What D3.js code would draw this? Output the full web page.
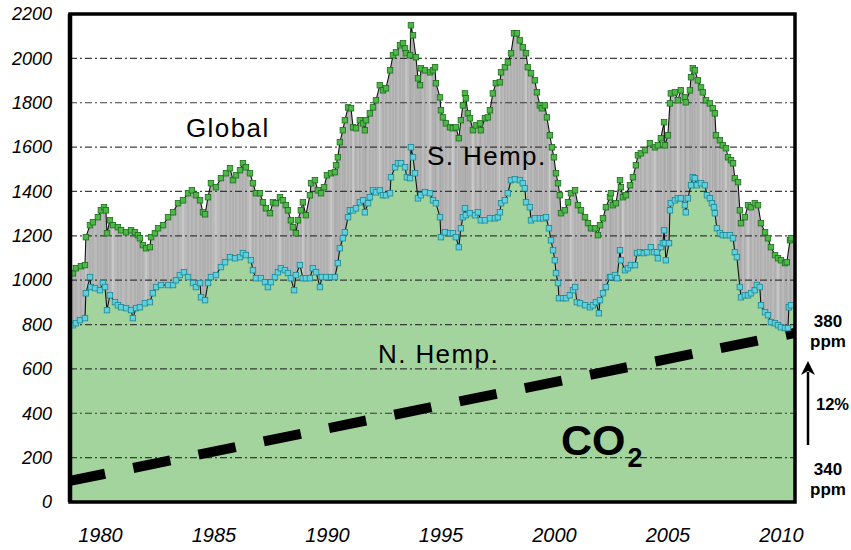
<!DOCTYPE html>
<html>
<head>
<meta charset="utf-8">
<script src="https://cdn.jsdelivr.net/npm/d3@7"></script>
<style>
body { margin: 0; background: #fff; }
svg text { font-family: "Liberation Sans", Arial, sans-serif; fill: #000; }
</style>
</head>
<body>
<svg id="vis" width="851" height="550"></svg>
<script>
// values: [year, value]
var globalSeries = [
  [1978.81,1031],[1978.94,1054],[1979.16,1063],[1979.34,1068],[1979.38,1194],[1979.56,1248],[1979.69,1261],[1979.91,1284],
  [1980.04,1315],[1980.18,1329],[1980.26,1315],[1980.31,1212],[1980.44,1270],[1980.57,1248],[1980.79,1239],[1980.93,1225],
  [1981.15,1216],[1981.37,1225],[1981.54,1216],[1981.67,1203],[1981.76,1189],[1981.89,1158],[1982.03,1144],[1982.20,1149],
  [1982.25,1194],[1982.42,1212],[1982.56,1234],[1982.78,1248],[1983.00,1284],[1983.22,1306],[1983.44,1347],[1983.66,1360],
  [1983.88,1392],[1984.05,1405],[1984.23,1383],[1984.41,1360],[1984.54,1306],[1984.63,1297],[1984.76,1374],[1984.89,1437],
  [1985.11,1419],[1985.33,1460],[1985.55,1482],[1985.73,1505],[1985.86,1451],[1985.99,1473],[1986.17,1496],[1986.30,1527],
  [1986.43,1509],[1986.61,1482],[1986.74,1437],[1986.87,1392],[1987.05,1392],[1987.18,1351],[1987.31,1324],[1987.49,1302],
  [1987.62,1351],[1987.75,1347],[1987.93,1374],[1988.06,1360],[1988.19,1338],[1988.28,1315],[1988.41,1270],[1988.50,1239],
  [1988.63,1212],[1988.72,1270],[1988.85,1315],[1988.94,1351],[1989.07,1293],[1989.25,1383],[1989.30,1437],[1989.47,1451],
  [1989.60,1405],[1989.74,1392],[1989.87,1419],[1990.00,1473],[1990.18,1482],[1990.35,1487],[1990.40,1518],[1990.48,1554],
  [1990.57,1622],[1990.70,1676],[1990.79,1721],[1990.93,1779],[1991.06,1775],[1991.15,1689],[1991.28,1685],[1991.45,1721],
  [1991.59,1707],[1991.67,1676],[1991.72,1721],[1991.89,1752],[1992.03,1779],[1992.16,1811],[1992.33,1879],[1992.47,1856],
  [1992.60,1865],[1992.78,1946],[1992.91,2014],[1993.04,2027],[1993.22,2059],[1993.35,2068],[1993.44,2045],[1993.48,2023],
  [1993.66,2014],[1993.70,2149],[1993.79,2104],[1993.92,2005],[1994.01,1910],[1994.10,1879],[1994.14,1955],[1994.32,1946],
  [1994.54,1937],[1994.67,1946],[1994.76,1960],[1994.80,1888],[1994.98,1824],[1995.02,1766],[1995.11,1734],[1995.24,1707],
  [1995.42,1689],[1995.55,1685],[1995.68,1689],[1995.81,1640],[1995.90,1721],[1995.99,1788],[1996.08,1842],[1996.12,1820],
  [1996.21,1752],[1996.30,1730],[1996.43,1676],[1996.56,1698],[1996.74,1707],[1996.78,1676],[1996.96,1730],[1997.09,1734],
  [1997.18,1766],[1997.31,1842],[1997.44,1888],[1997.62,1892],[1997.67,1937],[1997.84,1960],[1997.97,1982],[1998.11,2023],
  [1998.24,2113],[1998.37,2113],[1998.50,2081],[1998.63,2050],[1998.77,2023],[1998.85,1960],[1998.99,1933],[1999.16,1901],
  [1999.25,1847],[1999.38,1788],[1999.47,1775],[1999.60,1788],[1999.69,1734],[1999.82,1653],[1999.91,1599],[2000.00,1554],
  [2000.09,1482],[2000.18,1437],[2000.26,1383],[2000.31,1302],[2000.48,1315],[2000.62,1351],[2000.75,1392],[2000.93,1405],
  [2001.06,1338],[2001.19,1315],[2001.37,1284],[2001.50,1257],[2001.63,1234],[2001.81,1234],[2001.94,1203],[2002.03,1248],
  [2002.16,1279],[2002.29,1329],[2002.47,1374],[2002.51,1392],[2002.60,1338],[2002.73,1347],[2002.91,1451],[2002.95,1419],
  [2003.04,1374],[2003.17,1383],[2003.35,1428],[2003.48,1464],[2003.61,1518],[2003.70,1563],[2003.83,1572],[2004.01,1586],
  [2004.23,1617],[2004.45,1599],[2004.58,1608],[2004.71,1640],[2004.85,1712],[2004.89,1608],[2005.02,1653],[2005.11,1797],
  [2005.15,1842],[2005.33,1847],[2005.46,1811],[2005.59,1856],[2005.77,1824],[2005.81,1802],[2005.99,1856],[2006.04,1915],
  [2006.12,1955],[2006.21,1946],[2006.34,1901],[2006.48,1869],[2006.56,1847],[2006.70,1811],[2006.87,1797],[2007.00,1775],
  [2007.09,1752],[2007.14,1653],[2007.31,1631],[2007.44,1608],[2007.58,1595],[2007.67,1554],[2007.80,1541],[2007.89,1527],
  [2007.97,1460],[2008.11,1442],[2008.19,1315],[2008.24,1257],[2008.41,1284],[2008.55,1338],[2008.68,1329],[2008.85,1347],
  [2008.99,1338],[2009.12,1257],[2009.30,1216],[2009.43,1189],[2009.56,1149],[2009.74,1113],[2009.87,1099],[2010.00,1090],
  [2010.18,1077],[2010.26,1081],[2010.40,1180],[2010.44,1189]
];

var nhSeries = [
  [1978.81,797],[1978.94,806],[1979.12,820],[1979.34,829],[1979.38,941],[1979.56,1014],[1979.60,969],[1979.78,964],
  [1980.00,955],[1980.13,987],[1980.22,969],[1980.31,865],[1980.44,932],[1980.66,901],[1980.79,887],[1980.93,878],
  [1981.15,874],[1981.37,865],[1981.45,829],[1981.59,874],[1981.76,878],[1981.98,896],[1982.20,901],[1982.33,941],
  [1982.47,969],[1982.69,978],[1983.00,978],[1983.22,978],[1983.35,1000],[1983.52,1023],[1983.70,1036],[1983.88,1014],
  [1984.10,987],[1984.23,969],[1984.41,987],[1984.45,923],[1984.63,910],[1984.76,987],[1984.89,1014],[1985.11,1023],
  [1985.33,1059],[1985.51,1081],[1985.73,1104],[1985.95,1099],[1986.17,1104],[1986.30,1122],[1986.43,1113],[1986.65,1090],
  [1986.74,1045],[1986.87,1009],[1987.09,1009],[1987.27,991],[1987.40,969],[1987.53,991],[1987.71,1014],[1987.84,1036],
  [1987.97,1054],[1988.15,1045],[1988.28,1032],[1988.41,1009],[1988.55,955],[1988.63,1023],[1988.81,1068],[1988.94,1009],
  [1989.07,1009],[1989.25,1009],[1989.38,1054],[1989.52,1036],[1989.69,969],[1989.78,1014],[1989.96,1014],[1990.18,1014],
  [1990.35,1014],[1990.48,1077],[1990.57,1144],[1990.70,1189],[1990.79,1216],[1990.93,1284],[1991.01,1315],[1991.15,1315],
  [1991.28,1324],[1991.45,1351],[1991.59,1360],[1991.67,1306],[1991.81,1347],[1991.89,1374],[1992.03,1405],[1992.16,1396],
  [1992.33,1405],[1992.47,1383],[1992.60,1383],[1992.78,1392],[1992.82,1464],[1993.00,1509],[1993.13,1527],[1993.26,1527],
  [1993.44,1509],[1993.52,1464],[1993.66,1460],[1993.70,1599],[1993.79,1554],[1993.88,1482],[1994.01,1369],[1994.14,1383],
  [1994.32,1396],[1994.54,1392],[1994.67,1360],[1994.80,1347],[1994.98,1284],[1995.02,1194],[1995.20,1216],[1995.42,1212],
  [1995.55,1212],[1995.68,1194],[1995.81,1149],[1995.90,1234],[1995.99,1284],[1996.08,1324],[1996.12,1293],[1996.30,1302],
  [1996.52,1293],[1996.65,1306],[1996.78,1270],[1996.96,1270],[1997.18,1279],[1997.40,1279],[1997.53,1284],[1997.62,1306],
  [1997.67,1347],[1997.84,1360],[1997.97,1392],[1998.11,1451],[1998.28,1455],[1998.50,1451],[1998.63,1437],[1998.72,1414],
  [1998.77,1351],[1998.94,1329],[1998.99,1270],[1999.16,1279],[1999.38,1279],[1999.52,1279],[1999.65,1284],[1999.78,1234],
  [1999.87,1180],[1999.96,1135],[2000.04,1090],[2000.09,1032],[2000.18,987],[2000.22,919],[2000.40,919],[2000.53,919],
  [2000.70,932],[2000.84,955],[2000.93,969],[2001.01,901],[2001.15,896],[2001.37,887],[2001.59,878],[2001.72,887],
  [2001.85,901],[2001.98,851],[2002.03,910],[2002.16,941],[2002.29,969],[2002.47,1014],[2002.51,1014],[2002.69,1023],
  [2002.78,1009],[2002.91,1135],[2002.95,1090],[2003.13,1045],[2003.26,1054],[2003.39,1068],[2003.57,1068],[2003.66,1122],
  [2003.79,1126],[2003.96,1122],[2004.10,1126],[2004.27,1149],[2004.41,1126],[2004.54,1126],[2004.58,1099],[2004.71,1149],
  [2004.80,1167],[2004.85,1225],[2004.89,1167],[2004.93,1090],[2005.07,1167],[2005.11,1315],[2005.15,1347],[2005.33,1360],
  [2005.46,1369],[2005.59,1369],[2005.77,1338],[2005.81,1306],[2005.90,1369],[2006.04,1428],[2006.12,1464],[2006.21,1460],
  [2006.30,1428],[2006.48,1437],[2006.65,1428],[2006.74,1383],[2006.87,1369],[2006.96,1347],[2007.05,1329],[2007.09,1302],
  [2007.18,1234],[2007.31,1212],[2007.44,1203],[2007.58,1203],[2007.75,1203],[2007.89,1189],[2007.97,1126],[2008.06,1104],
  [2008.19,969],[2008.24,923],[2008.41,932],[2008.55,932],[2008.68,941],[2008.85,955],[2008.94,978],[2009.07,969],
  [2009.12,887],[2009.30,856],[2009.43,842],[2009.56,811],[2009.74,806],[2009.87,797],[2010.00,788],[2010.18,784],
  [2010.31,784],[2010.35,878],[2010.44,887]
];

// CO2 trend (straight line), ppm at the two ends of the time axis
var co2Years = [1978.68, 2010.62];
var co2Ppm = [340, 380];

var yTicks = [0, 200, 400, 600, 800, 1000, 1200, 1400, 1600, 1800, 2000, 2200];
var xTicks = [1980, 1985, 1990, 1995, 2000, 2005, 2010];

var svg = d3.select("svg#vis");

var attr = {
  left: 70,
  right: 795,
  top: 14,
  bottom: 502
};

var x = d3.scaleLinear().domain([1978.68, 2010.62]).range([attr.left, attr.right]);
var y = d3.scaleLinear().domain([0, 2200]).range([attr.bottom, attr.top]);
// ppm mapped onto the left axis units
var ppm = d3.scaleLinear().domain([340, 380]).range([95, 762]);

var g = {
  areas: svg.append("g").attr("id", "areas"),
  grid: svg.append("g").attr("id", "grid"),
  co2: svg.append("g").attr("id", "co2"),
  lines: svg.append("g").attr("id", "lines"),
  frame: svg.append("g").attr("id", "frame"),
  axes: svg.append("g").attr("id", "axes"),
  labels: svg.append("g").attr("id", "labels")
};

svg.append("clipPath").attr("id", "plotClip")
  .append("rect")
  .attr("x", attr.left).attr("y", attr.top)
  .attr("width", attr.right - attr.left).attr("height", attr.bottom - attr.top);

drawAreas();
drawGrid();
drawCO2();
drawSeries(globalSeries, "#4db848", "#1d6b1d");
drawSeries(nhSeries, "#62d0dc", "#1b8795");
drawFrame();
drawAxes();
drawLabels();

// stretch the series to the plot edges so the fills reach the frame
function padded(series) {
  var d0 = x.domain();
  return [[d0[0], series[0][1]]].concat(series, [[d0[1], series[series.length - 1][1]]]);
}

function drawAreas() {
  var area = d3.area()
    .x(d => x(d[0]))
    .y0(y(0))
    .y1(d => y(d[1]));

  g.areas.append("path")
    .datum(padded(globalSeries))
    .attr("d", area)
    .style("fill", "#bababa");

  // vertical hatching of the southern band
  g.areas.selectAll("line.stripe")
    .data(globalSeries)
    .enter()
    .append("line")
    .attr("class", "stripe")
    .attr("x1", d => x(d[0]))
    .attr("x2", d => x(d[0]))
    .attr("y1", d => y(d[1]))
    .attr("y2", y(0))
    .style("stroke", (d, i) => i % 9 == 4 ? "#e6e6e6" : "#9a9a9a")
    .style("stroke-width", 0.6);

  g.areas.append("path")
    .datum(padded(nhSeries))
    .attr("d", area)
    .style("fill", "#a4d49d");
}

function drawGrid() {
  g.grid.selectAll("line")
    .data(yTicks.filter(v => v > 0 && v < 2200))
    .enter()
    .append("line")
    .attr("x1", attr.left)
    .attr("x2", attr.right)
    .attr("y1", d => y(d))
    .attr("y2", d => y(d))
    .style("stroke", "#2a2a2a")
    .style("stroke-opacity", 0.9)
    .style("stroke-width", 1.2)
    .style("stroke-dasharray", "7,3,2,3");
}

function drawCO2() {
  var line = d3.line()
    .x(d => x(d[0]))
    .y(d => y(ppm(d[1])));

  g.co2.attr("clip-path", "url(#plotClip)")
    .append("path")
    .datum(co2Years.map((yr, i) => [yr, co2Ppm[i]]))
    .attr("d", line)
    .style("fill", "none")
    .style("stroke", "#000")
    .style("stroke-width", 10)
    .style("stroke-dasharray", "37.8,28.8")
    .style("stroke-dashoffset", 2);
}

function drawSeries(series, fill, edge) {
  var line = d3.line()
    .x(d => x(d[0]))
    .y(d => y(d[1]));

  var grp = g.lines.append("g");
  grp.append("path")
    .datum(series)
    .attr("d", line)
    .style("fill", "none")
    .style("stroke", "#111")
    .style("stroke-width", 1.1);

  grp.selectAll("rect")
    .data(series)
    .enter()
    .append("rect")
    .attr("x", d => x(d[0]) - 2.75)
    .attr("y", d => y(d[1]) - 2.75)
    .attr("width", 5.5)
    .attr("height", 5.5)
    .style("fill", fill)
    .style("stroke", edge)
    .style("stroke-width", 0.8);
}

function drawFrame() {
  g.frame.append("rect")
    .attr("x", attr.left)
    .attr("y", attr.top)
    .attr("width", attr.right - attr.left)
    .attr("height", attr.bottom - attr.top)
    .style("fill", "none")
    .style("stroke", "#000")
    .style("stroke-width", 3.5);
  g.frame.append("line")
    .attr("x1", attr.left).attr("x2", attr.left)
    .attr("y1", attr.top).attr("y2", attr.bottom)
    .style("stroke", "#000")
    .style("stroke-width", 4.5);
}

function drawAxes() {
  var yAxis = g.axes.append("g")
    .attr("transform", translate(attr.left, 0))
    .call(d3.axisLeft(y).tickValues(yTicks).tickSize(0).tickPadding(18).tickFormat(d3.format("d")));
  yAxis.select(".domain").remove();
  yAxis.selectAll("text")
    .style("font-size", "18px")
    .style("font-style", "italic")
    .style("font-family", "'Liberation Sans', Arial, sans-serif")
    .style("fill", "#000");

  var xAxis = g.axes.append("g")
    .attr("transform", translate(0, attr.bottom))
    .call(d3.axisBottom(x).tickValues(xTicks).tickSize(0).tickPadding(26).tickFormat(d3.format("d")));
  xAxis.select(".domain").remove();
  xAxis.selectAll("text")
    .style("font-size", "20px")
    .style("font-style", "italic")
    .style("font-family", "'Liberation Sans', Arial, sans-serif")
    .style("fill", "#000");
}

function drawLabels() {
  var big = [
    {text: "Global", x: 186, y: 137},
    {text: "S. Hemp.", x: 427, y: 165},
    {text: "N. Hemp.", x: 378, y: 363}
  ];
  g.labels.selectAll("text.series")
    .data(big)
    .enter()
    .append("text")
    .attr("class", "series")
    .attr("x", d => d.x)
    .attr("y", d => d.y)
    .style("font-size", "26px")
    .style("letter-spacing", "1.4px")
    .text(d => d.text);

  var co2 = g.labels.append("text")
    .attr("x", 561)
    .attr("y", 455)
    .style("font-size", "43px")
    .style("font-weight", "bold")
    .text("CO");
  co2.append("tspan")
    .attr("dy", 12)
    .attr("dx", 2)
    .style("font-size", "27px")
    .text("2");

  var side = [
    {text: "380", y: 327},
    {text: "ppm", y: 347},
    {text: "340", y: 475},
    {text: "ppm", y: 495}
  ];
  g.labels.selectAll("text.ppm")
    .data(side)
    .enter()
    .append("text")
    .attr("class", "ppm")
    .attr("x", 828)
    .attr("y", d => d.y)
    .attr("text-anchor", "middle")
    .style("font-size", "17px")
    .style("font-weight", "bold")
    .text(d => d.text);

  g.labels.append("text")
    .attr("x", 816)
    .attr("y", 410)
    .style("font-size", "16.5px")
    .style("font-weight", "bold")
    .text("12%");

  // upward arrow
  g.labels.append("line")
    .attr("x1", 808).attr("x2", 808)
    .attr("y1", 445).attr("y2", 372)
    .style("stroke", "#000")
    .style("stroke-width", 2.5);
  g.labels.append("path")
    .attr("d", "M801,375 L808,361 L815,375 L808,371 Z")
    .style("fill", "#000");
}

function translate(x, y) {
  return "translate(" + String(x) + "," + String(y) + ")";
}
</script>
</body>
</html>
